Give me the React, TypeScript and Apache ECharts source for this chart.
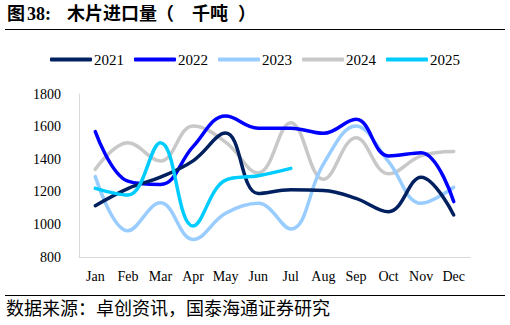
import React, { useEffect, useRef } from "react";
import * as echarts from "echarts";

const months = ["Jan", "Feb", "Mar", "Apr", "May", "Jun", "Jul", "Aug", "Sep", "Oct", "Nov", "Dec"];
const y2021 = [1115, 1220, 1290, 1390, 1560, 1190, 1212, 1208, 1160, 1078, 1290, 1058];
const y2022 = [1569, 1265, 1245, 1477, 1665, 1590, 1590, 1559, 1645, 1420, 1440, 1140];
const y2023 = [1293, 961, 1133, 908, 1068, 1129, 972, 1370, 1604, 1385, 1129, 1228];
const y2024 = [1338, 1501, 1389, 1604, 1505, 1316, 1624, 1277, 1532, 1310, 1420, 1447];
const y2025 = [1221, 1180, 1501, 990, 1272, 1299, 1344];
const seriesNames = ["2021", "2022", "2023", "2024", "2025"];
const seriesColors = ["#002060", "#0000FF", "#99CCFF", "#C8C8C8", "#00CCFF"];
const seriesData = [y2021, y2022, y2023, y2024, y2025];
const yTicks = { min: 800, max: 1800, interval: 200 };

const serif = "Liberation Serif";
const cjk = "Liberation Serif, Noto Sans CJK SC";

export default function App() {
  const ref = useRef<HTMLDivElement>(null);
  useEffect(() => {
    if (!ref.current) return;
    const chart = echarts.init(ref.current, undefined, { renderer: "svg" });
    const titleStyle = (text: string) => ({ text, fontFamily: cjk, fontSize: 18, fontWeight: "bold", fill: "#000" });
    chart.setOption({
      animation: false,
      backgroundColor: "#ffffff",
      graphic: [
        { type: "text", x: 7, y: 5, style: titleStyle("图") },
        { type: "text", x: 27, y: 5, style: titleStyle("38:") },
        { type: "text", x: 67, y: 5, style: titleStyle("木片进口量") },
        { type: "text", x: 156, y: 5, style: titleStyle("（") },
        { type: "text", x: 192, y: 5, style: titleStyle("千吨") },
        { type: "text", x: 238, y: 5, style: titleStyle("）") },
        { type: "line", shape: { x1: 5, y1: 29.5, x2: 505, y2: 29.5 }, style: { stroke: "#000", lineWidth: 1 } },
        { type: "line", shape: { x1: 5, y1: 295.5, x2: 505, y2: 295.5 }, style: { stroke: "#000", lineWidth: 1 } },
        {
          type: "text",
          x: 6,
          y: 300,
          style: { text: "数据来源：卓创资讯，国泰海通证券研究", fontFamily: cjk, fontSize: 18, fill: "#000" },
        },
      ],
      legend: {
        top: 47,
        left: "center",
        itemWidth: 42,
        itemHeight: 4,
        itemGap: 10,
        icon: "roundRect",
        textStyle: { fontFamily: serif, fontSize: 15, color: "#000", padding: [0, 0, 0, -3] },
        data: seriesNames,
      },
      grid: { left: 79, right: 40, top: 94, bottom: 68, containLabel: false },
      xAxis: {
        type: "category",
        data: months,
        boundaryGap: true,
        axisLine: { lineStyle: { color: "#D9D9D9", width: 1 } },
        axisTick: { show: false },
        axisLabel: { fontFamily: serif, fontSize: 14, color: "#000", margin: 12, interval: 0 },
      },
      yAxis: {
        type: "value",
        min: yTicks.min,
        max: yTicks.max,
        interval: yTicks.interval,
        axisLine: { show: true, lineStyle: { color: "#D9D9D9", width: 1 } },
        axisTick: { show: false },
        splitLine: { show: false },
        axisLabel: { fontFamily: serif, fontSize: 14, color: "#000", margin: 18, formatter: (v: number) => String(v) },
      },
      series: seriesNames.map((n, i) => ({
        name: n,
        type: "line",
        data: seriesData[i],
        smooth: 0.4,
        showSymbol: false,
        symbol: "none",
        lineStyle: { color: seriesColors[i], width: 3.5, cap: "round" },
        itemStyle: { color: seriesColors[i] },
        z: i === 4 ? 10 : 5 - i,
      })),
    });
    return () => chart.dispose();
  }, []);
  return <div ref={ref} style={{ position: "fixed", left: 0, top: 0, width: 510, height: 325 }} />;
}
